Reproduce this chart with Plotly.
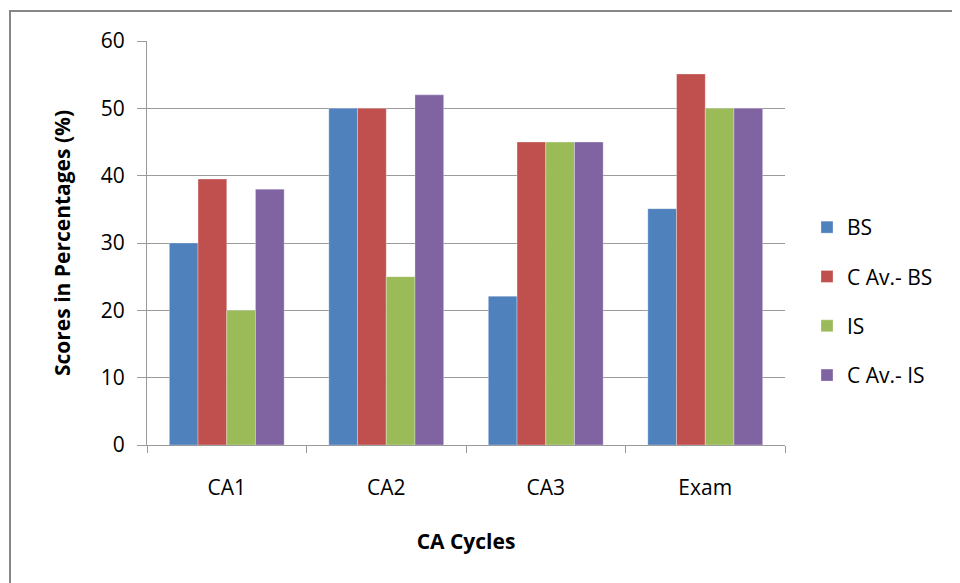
import plotly.graph_objects as go

categories = ["CA1", "CA2", "CA3", "Exam"]
bs = [30, 50, 22.1, 35.1]
cav_bs = [39.5, 50, 45, 55.1]
is_ = [20, 25, 45, 50]
cav_is = [38, 52, 45, 50]

series_names = ["BS", "C Av.- BS", "IS", "C Av.- IS"]
series_values = [bs, cav_bs, is_, cav_is]
colors = ["#4F81BD", "#C0504D", "#9BBB59", "#8064A2"]

FONT = "Open Sans"
OFF = 8  # page body margin offset

fig = go.Figure()
for i, (name, vals, col) in enumerate(zip(series_names, series_values, colors)):
    fig.add_trace(go.Bar(
        x=categories, y=vals, name=name, legendgroup=name,
        marker=dict(color=col, line=dict(color="rgba(255,255,255,0.6)", width=0.5)),
    ))

# target screen coordinates of plot area
L, R, T, B = 147 - OFF, 785 - OFF, 41 - OFF, 445 - OFF
W, H = 960, 583
pw, ph = R - L, B - T

def px(x):
    return (x - OFF - L) / pw

def py(y):
    return (B - (y - OFF)) / ph

fig.update_layout(
    width=W, height=H,
    margin=dict(l=L, r=W - R, t=T, b=H - B),
    paper_bgcolor="white", plot_bgcolor="white",
    barmode="group", bargap=0.28, bargroupgap=0,
    font=dict(family=FONT, size=21, color="#000000"),
    showlegend=True,
    legend=dict(
        x=px(807), y=py(207), xanchor="left", yanchor="top",
        traceorder="grouped", tracegroupgap=19,
        font=dict(family=FONT, size=21, color="#000000"),
        bgcolor="rgba(0,0,0,0)",
    ),
    shapes=[dict(
        type="rect", xref="paper", yref="paper",
        x0=px(10), x1=px(985), y0=py(620), y1=py(11),
        line=dict(color="#868686", width=2), fillcolor="rgba(0,0,0,0)",
        layer="below",
    )],
)

fig.update_yaxes(
    range=[0, 60], dtick=10,
    showgrid=True, gridcolor="#9a9a9a", gridwidth=1,
    showline=True, linecolor="#9a9a9a", linewidth=1,
    ticks="outside", ticklen=9, tickcolor="#9a9a9a",
    ticklabelstandoff=8,
    zeroline=False,
    title=dict(text="<b>Scores in Percentages (%)</b>", font=dict(family=FONT, size=21), standoff=24),
)
fig.update_xaxes(
    showline=True, linecolor="#9a9a9a", linewidth=1,
    ticks="outside", ticklen=7, tickcolor="#9a9a9a",
    tickson="boundaries",
    ticklabelstandoff=24,
    title=dict(text="<b>CA Cycles</b>", font=dict(family=FONT, size=21), standoff=34),
)

fig.write_html("out.html")
